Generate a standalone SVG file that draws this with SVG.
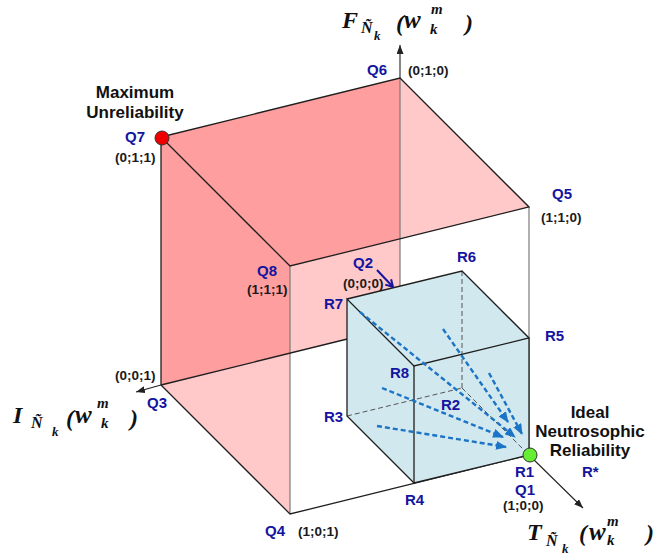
<svg xmlns="http://www.w3.org/2000/svg" width="662" height="556" viewBox="0 0 662 556">
<defs>
<style>
.face{fill:#ff0000;fill-opacity:0.21;stroke:none}
.edge{stroke:#1e1e1e;stroke-width:1.3;fill:none}
.gedge{stroke:#7a7a7a;stroke-width:1.2;fill:none}
.hid{stroke:#555;stroke-width:1;stroke-dasharray:5 3;fill:none}
.flow{stroke:#1c74c6;stroke-width:2.4;stroke-dasharray:5 3;fill:none;marker-end:url(#fh)}
.axis{stroke:#222;stroke-width:1.1;fill:none;marker-end:url(#ah)}
.q{font-family:"Liberation Sans",Arial,sans-serif;font-weight:bold;font-size:15px;fill:#1414a0}
.c{font-family:"Liberation Sans",Arial,sans-serif;font-weight:bold;font-size:13.5px;fill:#1a1a1a}
.t{font-family:"Liberation Sans",Arial,sans-serif;font-weight:bold;font-size:17px;fill:#111;text-anchor:middle}
.ax{font-family:"Liberation Serif","Times New Roman",serif;font-weight:bold;font-style:italic;fill:#111}
</style>
<marker id="fh" markerUnits="userSpaceOnUse" markerWidth="11" markerHeight="9" refX="10" refY="4.5" orient="auto"><path d="M0,0 L11,4.5 L0,9 z" fill="#1c74c6"/></marker>
<marker id="ah" markerUnits="userSpaceOnUse" markerWidth="9" markerHeight="7" refX="9" refY="3.5" orient="auto"><path d="M0,0 L9,3.5 L0,7 z" fill="#222"/></marker>
<marker id="qh" markerUnits="userSpaceOnUse" markerWidth="9" markerHeight="10" refX="8" refY="5" orient="auto"><path d="M1,1 L8,5 L1,9" fill="none" stroke="#1414a0" stroke-width="2"/></marker>
</defs>

<g id="faces">
<polygon class="face" points="400,78 161,137 161,385 400,326"/>
<polygon class="face" points="161,137 400,78 529,207 290,266"/>
<polygon class="face" points="161,137 290,266 290,514 161,385"/>
</g>

<g id="big-cube-edges">
<line class="gedge" x1="400" y1="78" x2="400" y2="326"/>
<line class="gedge" x1="290" y1="266" x2="290" y2="514"/>
<line class="gedge" x1="529" y1="207" x2="529" y2="455"/>
<line class="edge" x1="161" y1="137" x2="161" y2="385"/>
<polyline class="edge" points="161,137 400,78 529,207 290,266 161,137"/>
<line class="edge" x1="161" y1="385" x2="400" y2="326"/>
<polyline class="edge" points="161,385 290,514 529,455"/>
</g>

<g id="small-cube">
<polygon points="347,299 462,271 529,338 529,455 414,483 347,416" fill="#d1e8ee" stroke="none"/>
<line class="hid" x1="462" y1="271" x2="462" y2="388"/>
<line class="hid" x1="347" y1="416" x2="462" y2="388"/>
<line class="hid" x1="462" y1="388" x2="529" y2="455"/>
<polyline class="edge" points="347,299 462,271 529,338 414,366 347,299 347,416 414,483 529,455 529,338"/>
<line class="edge" x1="414" y1="366" x2="414" y2="483"/>
</g>

<g id="connectors">
<line class="axis" x1="400" y1="78" x2="400" y2="45"/>
<line class="axis" x1="161" y1="385" x2="136" y2="392"/>
<line class="axis" x1="529" y1="455" x2="583" y2="508"/>
<line x1="377" y1="270" x2="393" y2="287" stroke="#1414a0" stroke-width="2" marker-end="url(#qh)"/>
<line class="flow" x1="360" y1="312" x2="515" y2="437"/>
<line class="flow" x1="443" y1="329" x2="508" y2="422"/>
<line class="flow" x1="489" y1="373" x2="522" y2="434"/>
<line class="flow" x1="382" y1="388" x2="503" y2="437"/>
<line class="flow" x1="377" y1="426" x2="506" y2="447"/>
</g>

<g id="Q7"><circle cx="162" cy="138" r="7" fill="#ee0000" stroke="#333" stroke-width="1"/>
<text class="t" x="135" y="98">Maximum</text><text class="t" x="135" y="118">Unreliability</text>
<text class="q" x="125" y="142">Q7</text><text class="c" x="115" y="162">(0;1;1)</text></g>
<g id="Q6"><text class="q" x="367" y="75">Q6</text><text class="c" x="408" y="75">(0;1;0)</text></g>
<g id="Q5"><text class="q" x="552" y="199">Q5</text><text class="c" x="541" y="222">(1;1;0)</text></g>
<g id="Q8"><text class="q" x="257" y="276">Q8</text><text class="c" x="247" y="294">(1;1;1)</text></g>
<g id="Q2"><text class="q" x="353" y="268">Q2</text><text class="c" x="343" y="288">(0;0;0)</text></g>
<g id="Q3"><text class="q" x="147" y="408">Q3</text><text class="c" x="115" y="380">(0;0;1)</text></g>
<g id="Q4"><text class="q" x="265" y="536">Q4</text><text class="c" x="298" y="536">(1;0;1)</text></g>
<g id="Q1"><circle cx="530" cy="455" r="7" fill="#66ee33" stroke="#333" stroke-width="1"/>
<text class="q" x="515" y="477">R1</text><text class="q" x="515" y="495">Q1</text><text class="c" x="503" y="510">(1;0;0)</text>
<text class="t" x="590" y="418">Ideal</text><text class="t" x="590" y="437">Neutrosophic</text><text class="t" x="590" y="456">Reliability</text>
<text class="q" x="582" y="477">R*</text></g>
<g id="R6"><text class="q" x="457" y="262">R6</text></g>
<g id="R7"><text class="q" x="324" y="309">R7</text></g>
<g id="R5"><text class="q" x="545" y="341">R5</text></g>
<g id="R8"><text class="q" x="390" y="378">R8</text></g>
<g id="R2"><text class="q" x="441" y="410">R2</text></g>
<g id="R3"><text class="q" x="324" y="422">R3</text></g>
<g id="R4"><text class="q" x="405" y="505">R4</text></g>

<g id="axis-F" class="ax">
<text x="342" y="28" font-size="24">F</text>
<text x="361" y="33" font-size="16">Ñ</text>
<text x="374" y="40" font-size="13">k</text>
<text x="396" y="31" font-size="24">(</text>
<text x="404" y="28" font-size="25">w</text>
<text x="431" y="14" font-size="15">m</text>
<text x="430" y="34" font-size="15">k</text>
<text x="465" y="31" font-size="24">)</text>
</g>
<g id="axis-I" class="ax">
<text x="13" y="423" font-size="24">I</text>
<text x="31" y="428" font-size="16">Ñ</text>
<text x="52" y="436" font-size="13">k</text>
<text x="66" y="426" font-size="24">(</text>
<text x="75" y="423" font-size="25">w</text>
<text x="97" y="408" font-size="15">m</text>
<text x="101" y="428" font-size="15">k</text>
<text x="130" y="426" font-size="24">)</text>
</g>
<g id="axis-T" class="ax">
<text x="527" y="540" font-size="24">T</text>
<text x="546" y="546" font-size="16">Ñ</text>
<text x="562" y="553" font-size="13">k</text>
<text x="579" y="541" font-size="24">(</text>
<text x="589" y="540" font-size="25">w</text>
<text x="607" y="526" font-size="15">m</text>
<text x="607" y="545" font-size="15">k</text>
<text x="646" y="541" font-size="24">)</text>
</g>
</svg>
